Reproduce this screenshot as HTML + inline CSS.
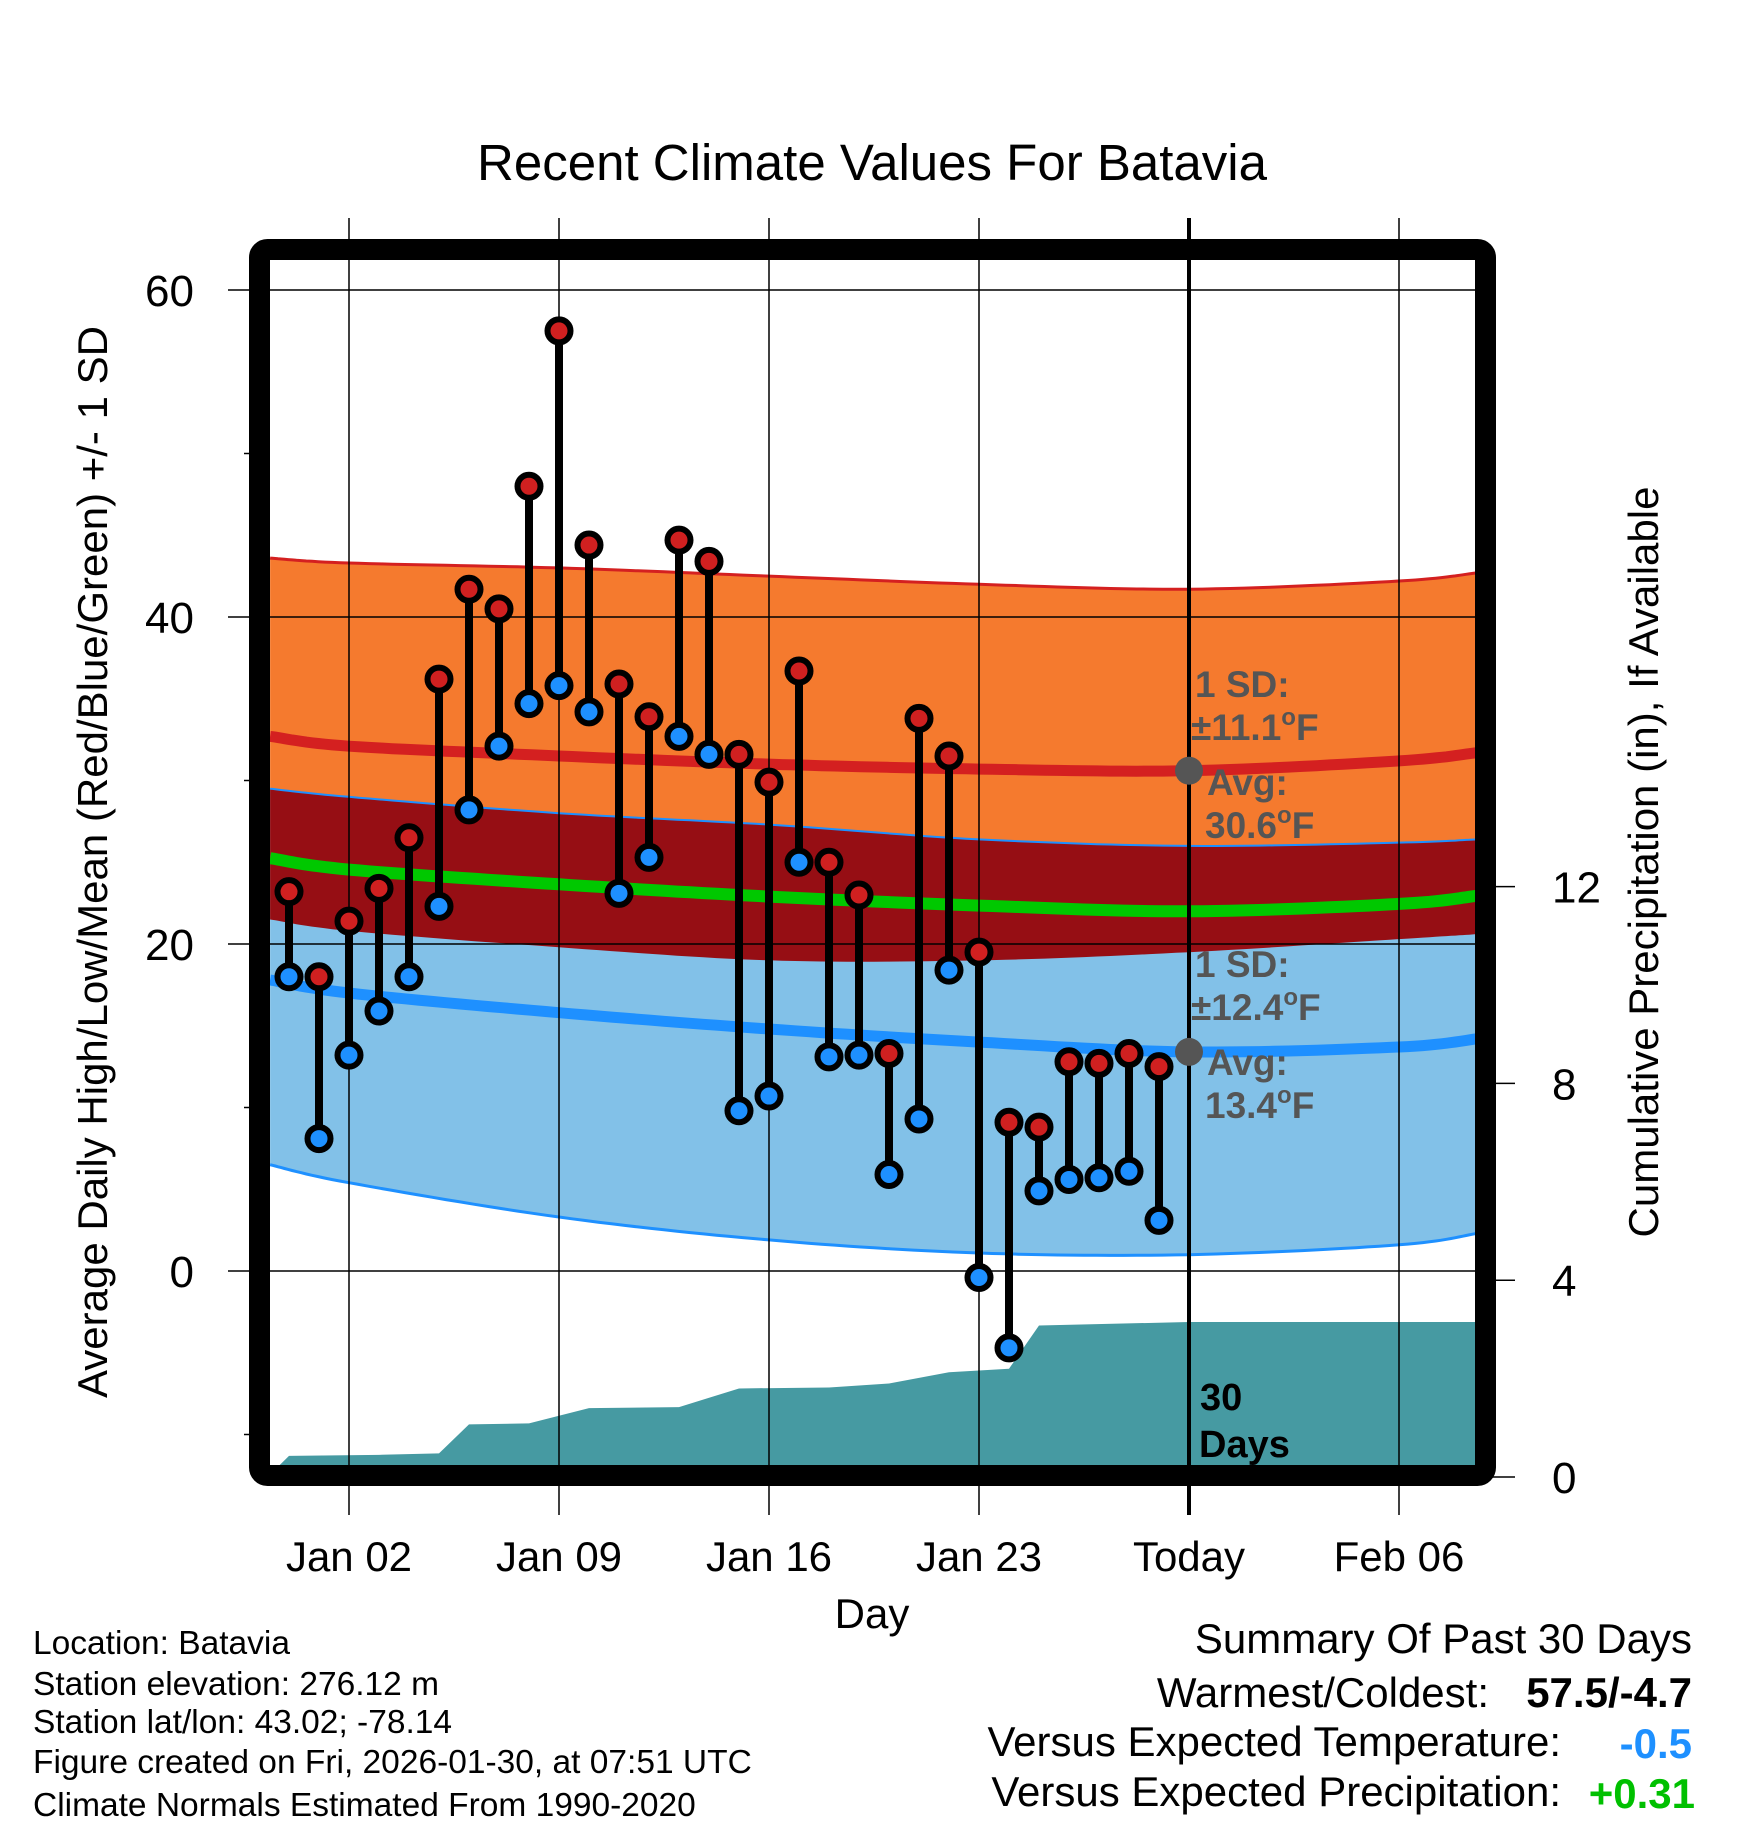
<!DOCTYPE html>
<html><head><meta charset="utf-8">
<style>
html,body{margin:0;padding:0;background:#fff;}
svg{display:block;font-family:"Liberation Sans",Arial,sans-serif;}
</style></head>
<body>
<svg id="chart" width="1748" height="1828" viewBox="0 0 1748 1828" xmlns="http://www.w3.org/2000/svg">
<defs><clipPath id="plotclip"><rect x="270" y="260" width="1206" height="1206"/></clipPath></defs>
<text x="872" y="180" font-size="51" text-anchor="middle">Recent Climate Values For Batavia</text>
<g id="under" clip-path="url(#plotclip)"></g>
<g id="grid"></g>
<g id="marks"></g>
<g id="annot"></g>
<rect x="259.5" y="249.5" width="1226" height="1226" rx="8" fill="none" stroke="#000" stroke-width="21"/>
<g id="axes"></g>
<text transform="translate(107,862) rotate(-90)" font-size="42" text-anchor="middle">Average Daily High/Low/Mean (Red/Blue/Green) +/- 1 SD</text>
<text transform="translate(1658,862) rotate(-90)" font-size="42" text-anchor="middle">Cumulative Precipitation (in), If Available</text>
<text x="872" y="1628" font-size="42" text-anchor="middle">Day</text>
<g font-size="33.5">
<text x="33" y="1654">Location: Batavia</text>
<text x="33" y="1695">Station elevation: 276.12 m</text>
<text x="33" y="1733">Station lat/lon: 43.02; -78.14</text>
<text x="33" y="1773">Figure created on Fri, 2026-01-30, at 07:51 UTC</text>
<text x="33" y="1816">Climate Normals Estimated From 1990-2020</text>
</g>
<g font-size="42">
<text x="1692" y="1653" text-anchor="end">Summary Of Past 30 Days</text>
<text x="1489" y="1707" text-anchor="end">Warmest/Coldest:</text>
<text x="1692" y="1707" text-anchor="end" font-weight="bold">57.5/-4.7</text>
<text x="1561" y="1756" text-anchor="end">Versus Expected Temperature:</text>
<text x="1692" y="1758" text-anchor="end" font-weight="bold" fill="#1e90ff">-0.5</text>
<text x="1561" y="1806" text-anchor="end">Versus Expected Precipitation:</text>
<text x="1695" y="1808" text-anchor="end" font-weight="bold" fill="#00c000">+0.31</text>
</g>
</svg>
<script>
// day index: Dec 31 = 0
const highs = [23.2,18.0,21.4,23.4,26.5,36.2,41.7,40.5,48.0,57.5,44.4,35.9,33.9,44.7,43.4,31.6,29.9,36.7,25.0,23.0,13.3,33.8,31.5,19.5,9.1,8.8,12.8,12.7,13.3,12.5];
const lows = [18.0,8.1,13.2,15.9,18.0,22.3,28.2,32.1,34.7,35.8,34.2,23.1,25.3,32.7,31.6,9.8,10.7,25.0,13.1,13.2,5.9,9.3,18.4,-0.4,-4.7,4.9,5.6,5.7,6.1,3.1];
const normDays = [-0.63,2,9,16,23,30,37,39.6];
const normHigh = [32.7,32.1,31.5,31.0,30.7,30.6,31.2,31.7];
const normHighTop = [43.6,43.3,43.0,42.5,42.0,41.7,42.2,42.7];
const normHighBot = [21.5,20.8,19.8,19.0,19.0,19.5,20.3,20.6];
const normLow = [17.8,17.0,15.8,14.8,14.0,13.4,13.7,14.2];
const normLowTop = [29.5,29.0,28.0,27.3,26.4,26.0,26.2,26.4];
const normLowBot = [6.5,5.4,3.3,1.9,1.1,1.0,1.6,2.3];
const precipDays = [-0.63,0,3,5,6,8,10,13,15,18,20,22,24,25,30,39.6];
const precipVals = [0.05,0.43,0.45,0.48,1.07,1.09,1.4,1.42,1.8,1.82,1.9,2.13,2.2,3.08,3.15,3.15];
const xTickDays = [2,9,16,23,30,37];
const xTickLabels = ["Jan 02","Jan 09","Jan 16","Jan 23","Today","Feb 06"];
const yTicks = [0,20,40,60];
const yMinor = [-10,10,30,50];
const y2Ticks = [0,4,8,12];

const NS="http://www.w3.org/2000/svg";
const X = d => 289 + d*30;
const Y = v => 1271 - 16.35*v;
const Y2 = p => 1477 - 49.2*p;
function mk(tag, attrs, parent){const e=document.createElementNS(NS,tag);for(const k in attrs)e.setAttribute(k,attrs[k]);parent.appendChild(e);return e;}
const under=document.getElementById('under'), grid=document.getElementById('grid'), marks=document.getElementById('marks'), annot=document.getElementById('annot'), axes=document.getElementById('axes');

// smooth curve via catmull-rom
function smoothPts(arr){
  const pts=normDays.map((t,i)=>[X(t),Y(arr[i])]);
  const out=[];
  for(let i=0;i<pts.length-1;i++){
    const p0=pts[Math.max(0,i-1)],p1=pts[i],p2=pts[i+1],p3=pts[Math.min(pts.length-1,i+2)];
    for(let s=0;s<16;s++){
      const t=s/16,t2=t*t,t3=t2*t;
      const f=(a,b,c,d)=>0.5*((2*b)+(-a+c)*t+(2*a-5*b+4*c-d)*t2+(-a+3*b-3*c+d)*t3);
      out.push([f(p0[0],p1[0],p2[0],p3[0]),f(p0[1],p1[1],p2[1],p3[1])]);
    }
  }
  out.push(pts[pts.length-1]);
  return out;
}
function linePath(arr){return smoothPts(arr).map((p,i)=>(i?'L':'M')+p[0].toFixed(1)+','+p[1].toFixed(1)).join('');}
function bandPath(top,bot){const a=smoothPts(top),b=smoothPts(bot).reverse();return a.concat(b).map((p,i)=>(i?'L':'M')+p[0].toFixed(1)+','+p[1].toFixed(1)).join('')+'Z';}
function overlapPath(){const top=normLowTop.map((v,i)=>Math.min(v,normHighTop[i]));const bot=normHighBot.map((v,i)=>Math.max(v,normLowBot[i]));return bandPath(top,bot);}

let e;
e=mk('path',{d:bandPath(normHighTop,normHighBot),fill:'#f57a2e'},under);


e=mk('path',{d:bandPath(normLowTop,normLowBot),fill:'#82c1e8'},under);


e=mk('path',{d:overlapPath(),fill:'#960e14'},under);


e=mk('path',{d:linePath(normHighTop),fill:'none',stroke:'#d42020','stroke-width':3},under);


e=mk('path',{d:linePath(normLowTop),fill:'none',stroke:'#1e90ff','stroke-width':2},under);


e=mk('path',{d:linePath(normLowBot),fill:'none',stroke:'#1e90ff','stroke-width':3},under);


e=mk('path',{d:linePath(normHigh),fill:'none',stroke:'#d42020','stroke-width':11},under);


e=mk('path',{d:linePath(normLow),fill:'none',stroke:'#1e90ff','stroke-width':11},under);


e=mk('path',{d:linePath(normHigh.map((h,i)=>(h+normLow[i])/2)),fill:'none',stroke:'#00c800','stroke-width':12},under);


let pd='M'+X(precipDays[0])+',1480';
precipDays.forEach((t,i)=>{pd+='L'+X(t)+','+Y2(precipVals[i]);});
pd+='L'+X(precipDays[precipDays.length-1])+',1480Z';
e=mk('path',{d:pd,fill:'#469aa2'},under);



yTicks.forEach(v=>{
  e=mk('line',{x1:228,x2:1476,y1:Y(v),y2:Y(v),stroke:'#000','stroke-width':1.5},grid);
  
  
  e=mk('text',{x:194,y:Y(v)+16,'font-size':44,'text-anchor':'end'},axes);
  e.textContent=v;
  
  
});
yMinor.forEach(v=>{
  e=mk('line',{x1:244,x2:252,y1:Y(v),y2:Y(v),stroke:'#000','stroke-width':1.5},axes);
  
  
});
xTickDays.forEach((d,i)=>{
  const today = xTickLabels[i]==='Today';
  e=mk('line',{x1:X(d),x2:X(d),y1:218,y2:1515,stroke:'#000','stroke-width':today?4:1.5},grid);
  
  
  e=mk('text',{x:X(d),y:1571,'font-size':42,'text-anchor':'middle'},axes);
  e.textContent=xTickLabels[i];
  
  
});
y2Ticks.forEach(p=>{
  e=mk('line',{x1:1486,x2:1515,y1:Y2(p),y2:Y2(p),stroke:'#000','stroke-width':1.5},axes);
  
  
  e=mk('text',{x:1552,y:Y2(p)+16,'font-size':44},axes);
  e.textContent=p;
  
  
});

highs.forEach((h,i)=>{
  e=mk('line',{x1:X(i),x2:X(i),y1:Y(h),y2:Y(lows[i]),stroke:'#000','stroke-width':8},marks);
  
  
});
highs.forEach((h,i)=>{
  e=mk('circle',{cx:X(i),cy:Y(h),r:11.5,fill:'#d02020',stroke:'#000','stroke-width':6},marks);
  
  
  e=mk('circle',{cx:X(i),cy:Y(lows[i]),r:11.5,fill:'#1e90ff',stroke:'#000','stroke-width':6},marks);
  
  
});

const ti=normDays.indexOf(30);
function note(lines,x,y,name){
  const g=mk('g',{},annot);
  
  
  const off=[0,43,98,141];
  lines.forEach((s,k)=>{const t=mk('text',{x:x[k],y:y+off[k],'font-size':37,'font-weight':'bold',fill:'#555'},g);t.innerHTML=s;});
}
e=mk('circle',{cx:X(30),cy:Y(normHigh[ti]),r:14,fill:'#555'},annot);


e=mk('circle',{cx:X(30),cy:Y(normLow[ti]),r:14,fill:'#555'},annot);


const deg='<tspan font-size="24" dy="-15">o</tspan><tspan dy="15">F</tspan>';
note(['1 SD:','±11.1'+deg,'Avg:','30.6'+deg],[1195,1191,1207,1205],697,'high-annotation');
note(['1 SD:','±12.4'+deg,'Avg:','13.4'+deg],[1195,1191,1207,1205],977,'low-annotation');
e=mk('text',{x:1200,y:1410,'font-size':38,'font-weight':'bold'},annot);
e.textContent='30';


e=mk('text',{x:1199,y:1457,'font-size':38,'font-weight':'bold'},annot);
e.textContent='Days';


</script>
</body></html>
